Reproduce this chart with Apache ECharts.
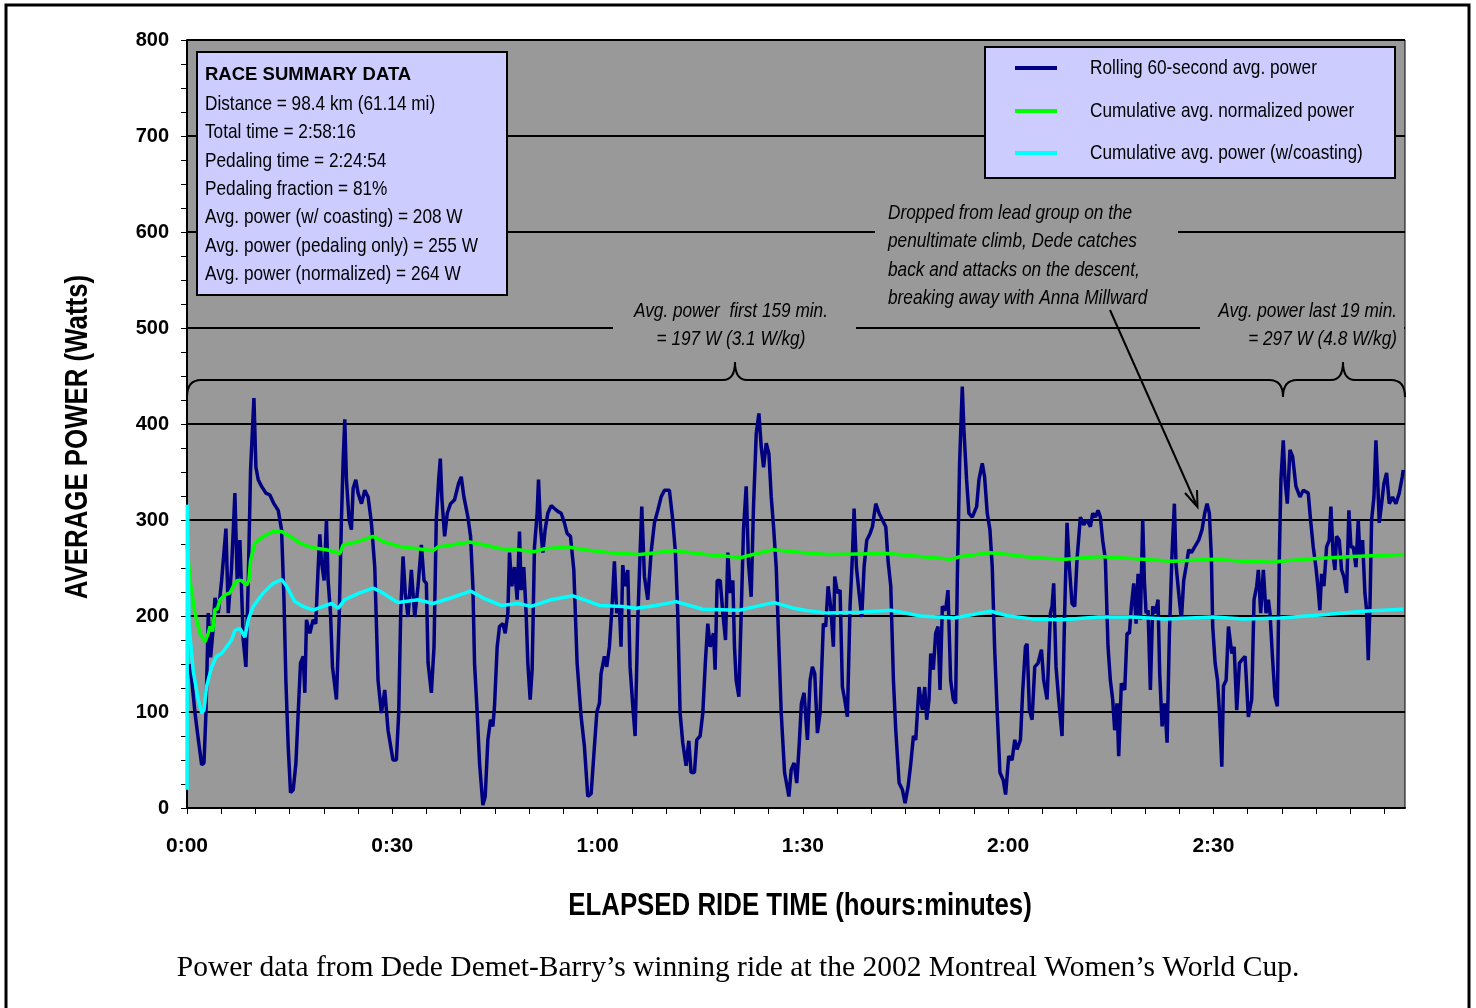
<!DOCTYPE html>
<html>
<head>
<meta charset="utf-8">
<script src="https://cdn.jsdelivr.net/npm/echarts@6/dist/echarts.min.js"></script>
<style>
html,body{margin:0;padding:0;background:#fff;}
#chart{width:1476px;height:1008px;}
</style>
</head>
<body>
<div id="chart"></div>
<script>
// ---- DATA (minutes, watts) ----
const rollingPower = [
[0.4,150],[0.7,133],[1.17,99],[1.66,71],[2.14,45],[2.48,47],[2.77,99],[3.11,203],[3.45,157],[3.75,181],[4.09,219],[4.57,203],[5.06,237],[5.69,291],[6.03,203],[6.52,251],[7.0,328],[7.34,237],[7.73,279],[8.22,175],[8.61,147],[8.95,237],[9.29,352],[9.78,427],[10.07,355],[10.41,342],[10.9,335],[11.53,328],[12.11,326],[12.7,317],[13.33,310],[13.82,290],[14.16,220],[14.45,133],[14.79,64],[15.13,16],[15.52,19],[15.91,46],[16.25,99],[16.59,151],[16.98,158],[17.22,120],[17.46,196],[17.95,182],[18.43,196],[18.82,192],[19.17,251],[19.41,285],[19.65,257],[20.04,237],[20.38,300],[20.62,237],[20.97,203],[21.26,147],[21.84,113],[22.23,196],[22.57,300],[22.82,362],[23.06,405],[23.3,342],[23.69,300],[24.03,290],[24.28,333],[24.67,342],[25.0,328],[25.5,317],[25.98,331],[26.47,324],[26.95,297],[27.44,251],[27.92,133],[28.41,99],[28.9,123],
[29.38,81],[30.1,50],[30.6,50],[30.94,99],[31.23,203],[31.57,262],[31.9,224],[32.3,199],[32.79,248],[33.28,199],[33.76,231],[34.25,274],[34.64,237],[34.98,234],[35.23,151],[35.71,120],[36.1,168],[36.43,300],[36.78,342],[37.02,364],[37.26,321],[37.65,283],[38.04,307],[38.52,317],[39.1,321],[39.69,338],[40.08,345],[40.47,324],[41.05,303],[41.44,283],[41.78,231],[42.02,151],[42.41,99],[42.76,46],[43.24,3],[43.58,12],[43.97,71],[44.36,92],[44.7,85],[44.94,106],[45.33,168],[45.67,189],[46.16,192],[46.5,182],[46.89,203],[47.13,266],[47.47,231],[47.86,251],[48.25,217],[48.59,288],[48.83,227],[49.22,251],[49.56,203],[49.81,151],[50.15,113],[50.44,144],[50.78,272],[51.17,307],[51.37,342],[51.66,293],[52.0,266],[52.34,290],[52.73,307],[53.22,315],[53.7,312],[54.19,309],[54.68,307],[55.16,297],[55.55,286],[56.04,283],[56.53,248],[57.01,151],[57.6,95],[58.08,64],[58.57,12],[59.06,15],
[59.54,64],[59.9,100],[60.27,109],[60.51,140],[61.0,158],[61.34,147],[61.73,168],[62.12,210],[62.46,257],[62.8,203],[63.19,210],[63.43,168],[63.68,253],[64.07,231],[64.42,248],[64.75,147],[65.15,106],[65.49,75],[65.88,196],[66.22,266],[66.46,314],[66.85,241],[67.34,217],[67.82,266],[68.31,297],[68.8,310],[69.29,324],[69.77,331],[70.5,331],[70.99,300],[71.38,266],[71.72,203],[72.06,99],[72.45,68],[72.94,44],[73.33,70],[73.67,37],[74.16,37],[74.5,71],[74.99,75],[75.38,99],[75.77,154],[76.11,192],[76.45,168],[76.94,182],[77.18,144],[77.48,237],[77.92,237],[78.31,203],[78.7,175],[79.04,266],[79.38,224],[79.77,237],[80.01,168],[80.26,133],[80.65,116],[80.99,203],[81.33,290],[81.72,335],[82.06,255],[82.45,220],[82.79,314],[83.19,390],[83.58,411],[83.92,376],[84.26,355],[84.65,380],[85.04,369],[85.38,324],[85.72,293],[86.11,251],[86.5,168],[86.84,99],[87.33,37],[87.96,12],[88.3,40],[88.72,47],
[89.11,26],[89.45,64],[89.79,109],[90.18,120],[90.67,71],[91.06,133],[91.4,147],[91.74,140],[92.13,78],[92.52,99],[93.0,192],[93.34,189],[93.69,231],[94.07,210],[94.46,168],[94.66,241],[95.05,224],[95.44,227],[95.78,126],[96.12,113],[96.51,95],[96.9,210],[97.24,262],[97.49,312],[97.83,251],[98.22,224],[98.61,199],[98.95,251],[99.34,279],[99.83,286],[100.17,293],[100.66,317],[101.14,307],[101.63,300],[102.12,293],[102.46,257],[102.85,231],[103.24,133],[103.58,81],[104.07,26],[104.55,19],[104.94,5],[105.38,22],[105.77,46],[106.16,75],[106.5,71],[106.74,99],[106.98,126],[107.47,102],[107.81,126],[108.1,92],[108.44,113],[108.69,161],[109.07,144],[109.41,182],[109.75,189],[110.05,123],[110.39,210],[110.87,206],[111.21,227],[111.6,133],[111.99,113],[112.33,109],[112.57,237],[112.91,359],[113.3,439],[113.54,394],[113.93,342],[114.27,307],[114.76,303],[115.4,314],[115.74,342],[116.22,359],[116.56,345],[116.95,307],[117.34,290],[117.68,251],[118.02,168],[118.41,99],[118.8,37],[119.29,29],[119.63,14],
[120.09,54],[120.58,50],[120.97,71],[121.31,61],[121.8,71],[122.14,123],[122.53,168],[122.77,171],[123.11,102],[123.5,92],[123.89,147],[124.38,151],[124.87,165],[125.2,133],[125.69,113],[126.18,203],[126.42,210],[126.66,234],[127.0,147],[127.39,113],[127.88,75],[128.27,206],[128.61,297],[128.95,251],[129.34,213],[129.73,210],[130.07,259],[130.56,303],[131.04,295],[131.53,300],[132.02,293],[132.36,307],[132.75,303],[133.14,310],[133.48,303],[133.82,279],[134.21,259],[134.6,168],[134.94,133],[135.28,113],[135.57,81],[135.91,109],[136.16,54],[136.55,130],[137.04,123],[137.38,182],[137.72,182],[138.01,210],[138.36,234],[138.7,192],[138.99,244],[139.33,196],[139.67,300],[139.91,237],[140.16,203],[140.45,206],[140.79,123],[141.13,210],[141.52,203],[141.91,217],[142.15,140],[142.5,85],[142.89,109],[143.23,68],[143.57,182],[143.96,266],[144.3,317],[144.54,253],[144.93,224],[145.32,196],[145.66,237],[146.0,251],[146.39,269],[146.78,266],[147.27,272],[147.85,279],[148.34,290],[148.73,307],[149.07,317],[149.41,307],[149.7,262],
[149.9,189],[150.25,151],[150.6,133],[150.89,99],[151.23,43],[151.47,127],[151.86,133],[152.2,189],[152.69,161],[153.03,168],[153.41,102],[153.8,151],[154.14,154],[154.63,158],[155.11,95],[155.6,113],[155.94,217],[156.33,231],[156.57,248],[156.91,203],[157.3,248],[157.69,203],[158.03,217],[158.27,203],[158.66,154],[159.0,116],[159.34,106],[159.63,259],[159.87,342],[160.21,383],[160.46,342],[160.8,317],[161.19,373],[161.58,366],[162.06,335],[162.65,324],[163.13,331],[163.86,328],[164.2,300],[164.59,272],[164.98,251],[165.32,227],[165.56,206],[165.81,244],[166.15,231],[166.54,272],[166.93,279],[167.17,314],[167.51,262],[167.76,248],[168.0,283],[168.39,279],[168.73,248],[169.07,241],[169.46,224],[169.8,310],[170.1,272],[170.44,272],[170.83,251],[171.17,300],[171.41,262],[171.8,279],[172.14,224],[172.39,206],[172.63,154],[172.88,210],[173.12,300],[173.46,324],[173.75,383],[174.0,342],[174.24,297],[174.58,317],[174.92,338],[175.31,349],[175.7,317],[176.18,324],[176.67,317],[177.16,328],[177.6,345],[177.75,352]
];

const normalizedPower = [
[0,275],[0.44,237],[1.17,203],[1.9,182],[2.63,173],[3.1,182],[3.36,189],[3.75,184],[4.09,207],[4.43,207],[4.82,217],[5.55,222],[6.27,224],[6.76,231],[7.34,237],[7.97,237],[8.7,232],[9.04,237],[9.29,258],[9.92,276],[11.14,283],[12.6,288],[13.82,288],[15.03,283],[16.49,276],[18.43,271],[20.38,269],[21.6,267],[22.33,265],[22.82,274],[24.76,277],[27.19,283],[28.89,277],[31.32,272],[33.76,270],[35.95,268],[36.69,272],[38.64,274],[41.3,277],[43.48,274],[45.92,270],[48.35,269],[50.78,267],[52.24,270],[55.65,272],[58.08,269],[61.73,266],[66.12,264],[71.23,268],[75.87,264],[80.99,261],[82.69,264],[85.62,269],[90.26,266],[93.59,264],[102.36,265],[111.6,259],[113.05,262],[117.44,266],[120.1,264],[123.5,261],[128.36,259],[133.23,262],[138.1,260],[143.96,257],[150.05,259],[154.39,257],[158.76,256],[159.73,257],[165.08,260],[170.44,262],[177.75,264]
];

const avgPower = [
[0,19],[0.05,316],[0.3,190],[0.92,142],[1.65,113],[2.14,99],[2.48,102],[2.87,127],[3.6,147],[4.33,158],[5.06,161],[5.79,168],[6.52,175],[7.0,185],[7.73,187],[8.46,178],[8.95,196],[9.68,210],[11.14,224],[12.6,234],[13.82,238],[14.55,231],[15.76,215],[16.98,210],[18.43,206],[19.89,210],[21.11,213],[22.09,208],[23.06,217],[25.25,224],[27.19,229],[28.16,226],[30.35,216],[30.84,214],[33.76,217],[35.95,213],[38.64,219],[41.44,226],[43.48,218],[45.92,211],[48.35,213],[50.3,210],[53.22,217],[56.38,221],[58.81,215],[60.27,211],[63.68,210],[65.63,208],[68.55,211],[71.47,215],[75.38,207],[80.74,206],[83.19,210],[85.86,214],[88.72,208],[90.26,206],[93.59,203],[98.46,204],[102.85,206],[107.23,200],[112.09,198],[117.44,205],[120.1,200],[123.5,197],[127.88,196],[133.23,199],[138.1,199],[142.96,197],[150.05,199],[154.39,197],[159.73,198],[165.56,201],[171.9,205],[177.75,207]
];

const seriesNames = ['Rolling 60-second avg. power','Cumulative avg. normalized power','Cumulative avg. power (w/coasting)'];
const seriesColors = ['#000080','#00ff00','#00ffff'];
const yTicks = [0,100,200,300,400,500,600,700,800];
const xLabelMinutes = [0,30,60,90,120,150];

const summaryTitle = 'RACE SUMMARY DATA';
const summaryLines = [
'Distance = 98.4 km (61.14 mi)',
'Total time = 2:58:16',
'Pedaling time = 2:24:54',
'Pedaling fraction = 81%',
'Avg. power (w/ coasting) = 208 W',
'Avg. power (pedaling only) = 255 W',
'Avg. power (normalized) = 264 W'
];
const noteLines = [
'Dropped from lead group on the',
'penultimate climb, Dede catches',
'back and attacks on the descent,',
'breaking away with Anna Millward'
];
const firstNote = ['Avg. power  first 159 min.', '= 197 W (3.1 W/kg)'];
const lastNote = ['Avg. power last 19 min.', '= 297 W (4.8 W/kg)'];
const xName = 'ELAPSED RIDE TIME (hours:minutes)';
const yName = 'AVERAGE POWER (Watts)';
const caption = 'Power data from Dede Demet-Barry\u2019s winning ride at the 2002 Montreal Women\u2019s World Cup.';

// ---- CHART ----
const SANS = "'Liberation Sans',Arial,sans-serif";
const NX = 0.82; // horizontal condensing to mimic Arial Narrow
const chart = echarts.init(document.getElementById('chart'), null, {renderer:'canvas'});

function fmtTime(v){
  if (xLabelMinutes.indexOf(v) < 0) return '';
  const h = Math.floor(v/60), m = v%60;
  return h + ':' + (m<10?'0':'') + m;
}
function ntext(x, y, text, font, align, z, rot){
  return {type:'text', z:z||6, x:x, y:y, scaleX:NX, rotation:rot||0,
    style:{x:0, y:0, text:text, font:font, fill:'#000', textAlign:align||'left', textVerticalAlign:'middle'}};
}

const graphics = [];
// outer frame
graphics.push({type:'rect', z:10, shape:{x:6,y:5,width:1463,height:1010}, style:{fill:null, stroke:'#000', lineWidth:3}});
// masks where text interrupts grid lines
graphics.push({type:'rect', z:3, shape:{x:875,y:226,width:303,height:12}, style:{fill:'#999999'}});
graphics.push({type:'rect', z:3, shape:{x:613,y:322,width:243,height:12}, style:{fill:'#999999'}});
graphics.push({type:'rect', z:3, shape:{x:1200,y:322,width:204,height:12}, style:{fill:'#999999'}});
// summary box
graphics.push({type:'rect', z:5, shape:{x:197,y:52,width:310,height:243}, style:{fill:'#ccccff', stroke:'#000', lineWidth:2}});
graphics.push({type:'text', z:6, x:205, y:75, style:{x:0,y:0,text:summaryTitle, font:'bold 18.5px '+SANS, fill:'#000', textVerticalAlign:'middle'}});
summaryLines.forEach((t,i)=>{ graphics.push(ntext(205, 104+i*28.4, t, '21px '+SANS)); });
// legend box
graphics.push({type:'rect', z:5, shape:{x:985,y:47,width:410,height:131}, style:{fill:'#ccccff', stroke:'#000', lineWidth:2}});
[68,111,153].forEach((yy,i)=>{
  graphics.push({type:'line', z:6, shape:{x1:1015,y1:yy,x2:1057,y2:yy}, style:{stroke:seriesColors[i], lineWidth:4}});
  graphics.push(ntext(1090, yy, seriesNames[i], '21px '+SANS));
});
// annotation text
noteLines.forEach((t,i)=>{ graphics.push(ntext(888, 213+i*28.4, t, 'italic 21px '+SANS)); });
graphics.push(ntext(731, 311, firstNote[0], 'italic 21px '+SANS, 'center'));
graphics.push(ntext(731, 339, firstNote[1], 'italic 21px '+SANS, 'center'));
graphics.push(ntext(1397, 311, lastNote[0], 'italic 21px '+SANS, 'right'));
graphics.push(ntext(1397, 339, lastNote[1], 'italic 21px '+SANS, 'right'));
// braces
function brace(x0, xc, x1){
  const yb=397, yl=380, yt=362, r=14;
  const st={fill:null, stroke:'#000', lineWidth:2};
  return [
    {type:'bezierCurve', z:6, shape:{x1:x0,y1:yb,x2:x0+r,y2:yl,cpx1:x0,cpy1:yl}, style:st},
    {type:'line', z:6, shape:{x1:x0+r,y1:yl,x2:xc-12,y2:yl}, style:st},
    {type:'bezierCurve', z:6, shape:{x1:xc-12,y1:yl,x2:xc,y2:yt,cpx1:xc,cpy1:yl}, style:st},
    {type:'bezierCurve', z:6, shape:{x1:xc,y1:yt,x2:xc+12,y2:yl,cpx1:xc,cpy1:yl}, style:st},
    {type:'line', z:6, shape:{x1:xc+12,y1:yl,x2:x1-r,y2:yl}, style:st},
    {type:'bezierCurve', z:6, shape:{x1:x1-r,y1:yl,x2:x1,y2:yb,cpx1:x1,cpy1:yl}, style:st}
  ];
}
brace(187, 735, 1283).forEach(g=>graphics.push(g));
brace(1283, 1343, 1405).forEach(g=>graphics.push(g));
// arrow
graphics.push({type:'line', z:6, shape:{x1:1110,y1:310,x2:1197,y2:506}, style:{stroke:'#000', lineWidth:2}});
graphics.push({type:'polyline', z:6, shape:{points:[[1185,493],[1197.5,507],[1197,490]]}, style:{fill:null, stroke:'#000', lineWidth:2}});
// axis titles
graphics.push(ntext(800, 906, xName, 'bold 31.5px '+SANS, 'center'));
graphics.push(ntext(78, 437, yName, 'bold 31.5px '+SANS, 'center', 6, Math.PI/2));
// caption
graphics.push({type:'text', z:6, x:738, y:968, style:{x:0,y:0,text:caption, font:"29.5px 'Liberation Serif','Times New Roman',serif", fill:'#000', textAlign:'center', textVerticalAlign:'middle'}});

const option = {
  animation:false,
  backgroundColor:'#ffffff',
  grid:{left:187, right:71, top:40, bottom:200, show:true, backgroundColor:'#999999', borderColor:'#000', borderWidth:1, outerBoundsMode:'none'},
  xAxis:{
    type:'value', min:0, max:178, interval:5,
    axisLine:{lineStyle:{color:'#000', width:2}},
    axisTick:{show:true, length:6, lineStyle:{color:'#000', width:1}},
    axisLabel:{formatter:fmtTime, fontFamily:SANS, fontWeight:'bold', fontSize:21, color:'#000', margin:28, showMaxLabel:false},
    splitLine:{show:false}
  },
  yAxis:{
    type:'value', min:0, max:800, interval:100,
    axisLine:{show:true, lineStyle:{color:'#000', width:2}},
    axisTick:{show:true, length:6, lineStyle:{color:'#000', width:1}},
    minorTick:{show:true, splitNumber:4, length:6, lineStyle:{color:'#000', width:1}},
    axisLabel:{fontFamily:SANS, fontWeight:'bold', fontSize:20, color:'#000', margin:18,
      formatter:function(v){ return yTicks.indexOf(v)>=0 ? String(v) : ''; }},
    splitLine:{show:true, lineStyle:{color:'#000', width:2}}
  },
  series:[
    {name:seriesNames[0], type:'line', data:rollingPower, showSymbol:false, symbol:'none', lineStyle:{color:seriesColors[0], width:3.5}, itemStyle:{color:seriesColors[0]}, z:2},
    {name:seriesNames[1], type:'line', data:normalizedPower, showSymbol:false, symbol:'none', lineStyle:{color:seriesColors[1], width:3.5}, itemStyle:{color:seriesColors[1]}, z:3},
    {name:seriesNames[2], type:'line', data:avgPower, showSymbol:false, symbol:'none', lineStyle:{color:seriesColors[2], width:3.5}, itemStyle:{color:seriesColors[2]}, z:4}
  ],
  graphic:{elements:graphics}
};
chart.setOption(option);
</script>
</body>
</html>
